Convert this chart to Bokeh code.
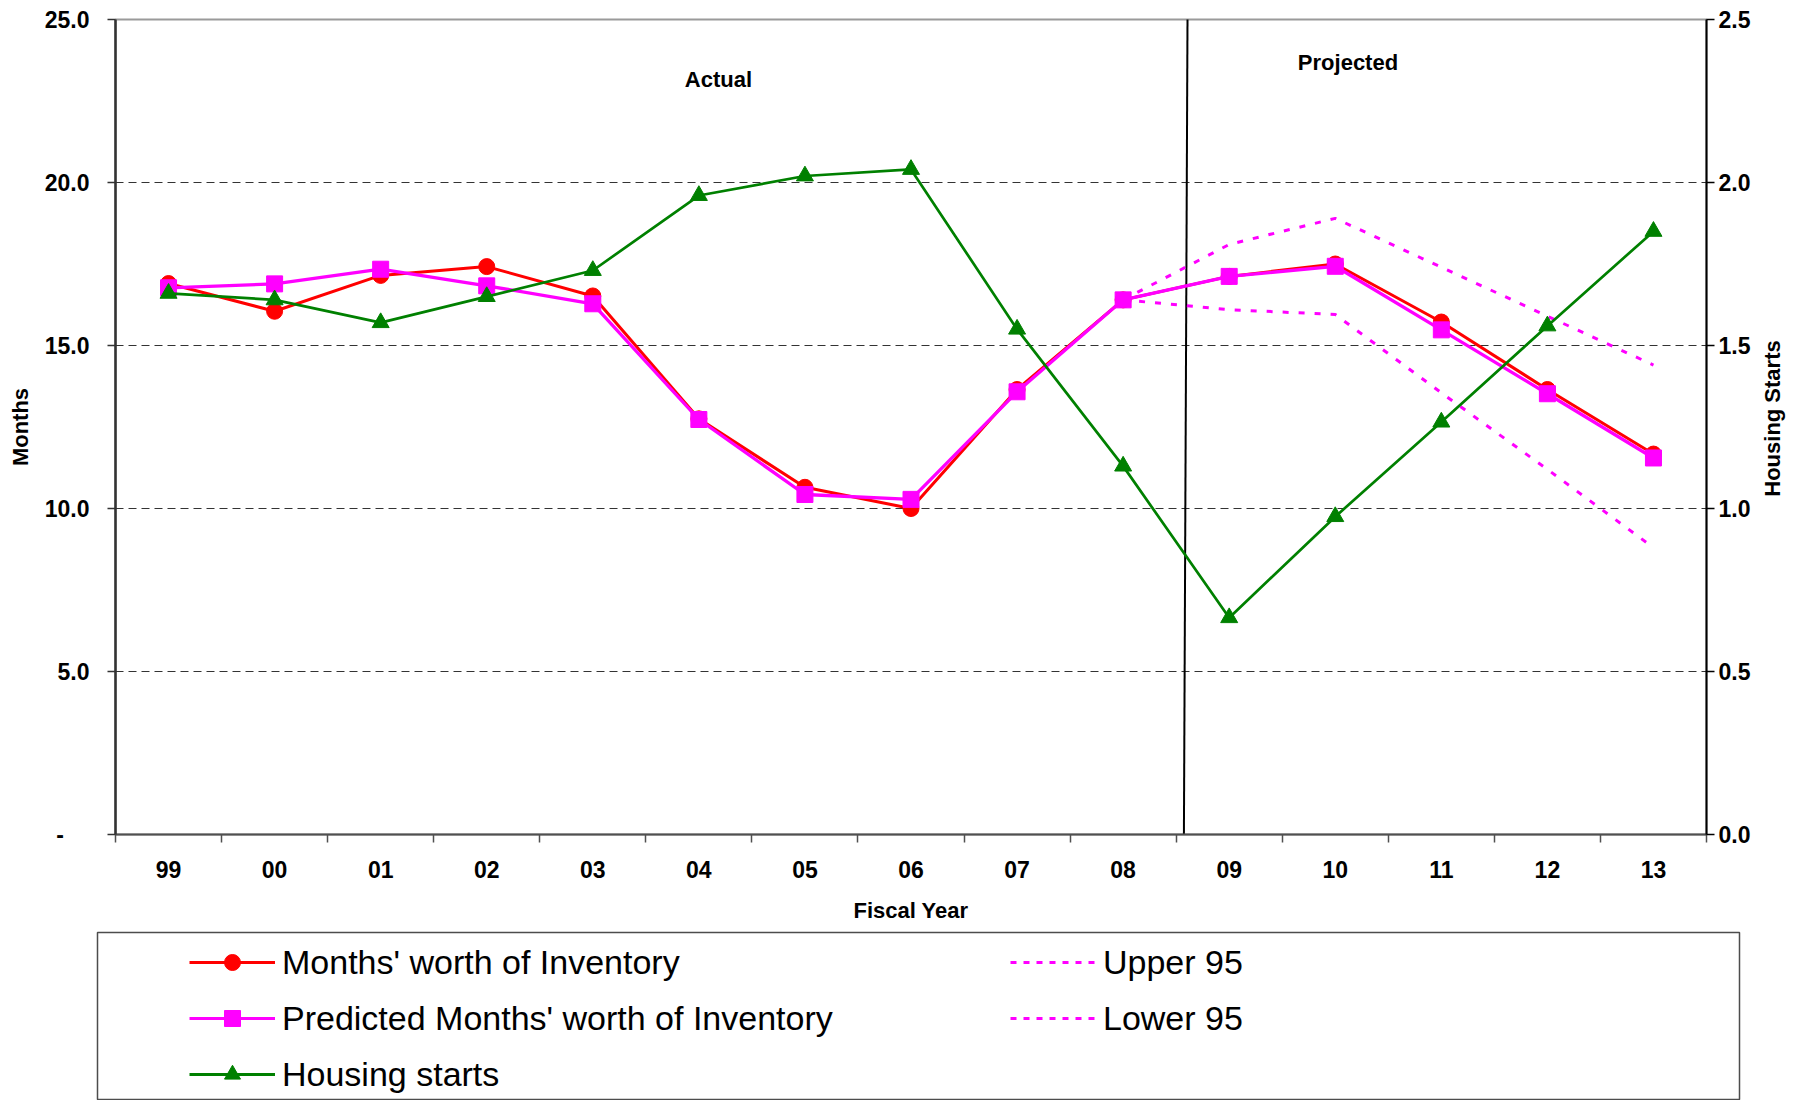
import math

from bokeh.plotting import figure
from bokeh.models import (Range1d, LinearAxis, FixedTicker, PrintfTickFormatter,
                          Legend, LegendItem, Label)
from bokeh.layouts import column, row
from bokeh.embed import file_html
from bokeh.resources import INLINE

# Fiscal years (two-digit) and series
years = ["99", "00", "01", "02", "03", "04", "05", "06", "07",
         "08", "09", "10", "11", "12", "13"]
months_inventory = [16.9, 16.05, 17.15, 17.42, 16.52, 12.75, 10.65, 10.0, 13.65,
                    16.4, 17.12, 17.5, 15.72, 13.65, 11.67]
predicted_inventory = [16.77, 16.89, 17.34, 16.83, 16.28, 12.73, 10.43, 10.28, 13.58,
                       16.4, 17.12, 17.43, 15.48, 13.52, 11.55]
housing_starts = [1.66, 1.64, 1.57, 1.65, 1.73, 1.96, 2.02, 2.04, 1.55,
                  1.13, 0.665, 0.975, 1.265, 1.56, 1.85]
band_years = ["08", "09", "10", "11", "12", "13"]
upper_95 = [16.4, 18.1, 18.9, 17.4, 15.9, 14.4]
lower_95 = [16.4, 16.1, 15.95, 13.55, 11.2, 8.8]

months_ticks = [0, 5, 10, 15, 20, 25]
starts_ticks = [0.0, 0.5, 1.0, 1.5, 2.0, 2.5]

FONT = "Liberation Sans"
RED, MAGENTA, GREEN = "#ff0000", "#ff00ff", "#008000"

xi = list(range(len(years)))
band_xi = [years.index(y) for y in band_years]

p = figure(width=1756, height=930,
           x_range=Range1d(-0.5, len(years) - 0.5), y_range=Range1d(0, 25),
           output_backend="svg", toolbar_location=None,
           min_border_left=115, min_border_right=50,
           min_border_top=19, min_border_bottom=96)
p.frame_align = False
p.background_fill_color = "white"
p.border_fill_color = "white"
p.outline_line_color = "#9a9a9a"
p.outline_line_width = 2

# Secondary scale for housing starts
p.extra_y_ranges = {"starts": Range1d(0, 2.5)}

# Category axis: labels at the centres, tick marks between categories
xa = p.xaxis[0]
xa.ticker = FixedTicker(ticks=xi, minor_ticks=[i - 0.5 for i in range(len(years) + 1)])
xa.major_label_overrides = {i: y for i, y in enumerate(years)}
xa.major_tick_in = 0
xa.major_tick_out = 0
xa.minor_tick_in = 0
xa.minor_tick_out = 8
xa.minor_tick_line_color = "#505050"
xa.minor_tick_line_width = 1.5
xa.axis_line_color = "#505050"
xa.axis_line_width = 2
xa.major_label_standoff = 18
xa.axis_label = "Fiscal Year"
xa.axis_label_standoff = 17

ya = p.yaxis[0]
ya.ticker = FixedTicker(ticks=months_ticks, minor_ticks=[])
ya.formatter = PrintfTickFormatter(format="%.1f")
ya.major_label_overrides = {0: "-\u00a0\u00a0\u00a0\u00a0"}
ya.major_tick_in = 0
ya.major_tick_out = 8
ya.major_tick_line_color = "#333333"
ya.major_tick_line_width = 1.5
ya.axis_line_color = "#333333"
ya.axis_line_width = 2.5
ya.major_label_standoff = 18
ya.axis_label = "Months"
ya.axis_label_standoff = 9

ra = LinearAxis(y_range_name="starts",
                ticker=FixedTicker(ticks=starts_ticks, minor_ticks=[]),
                formatter=PrintfTickFormatter(format="%.1f"))
ra.major_tick_in = 0
ra.major_tick_out = 8
ra.major_tick_line_color = "black"
ra.major_tick_line_width = 1.5
ra.axis_line_color = "black"
ra.axis_line_width = 2
ra.major_label_standoff = 4
p.add_layout(ra, "right")

for ax in (xa, ya, ra):
    ax.major_label_text_font = FONT
    ax.major_label_text_font_style = "bold"
    ax.major_label_text_font_size = "23px"
    ax.major_label_text_color = "black"
    ax.axis_label_text_font = FONT
    ax.axis_label_text_font_style = "bold"
    ax.axis_label_text_font_size = "22px"
    ax.axis_label_text_color = "black"

p.xgrid.visible = False
p.ygrid.ticker = FixedTicker(ticks=[5, 10, 15, 20], minor_ticks=[])
p.ygrid.grid_line_color = "#333333"
p.ygrid.grid_line_width = 1
p.ygrid.grid_line_dash = "8 5"

# Actual / projected divider
divider_x = [9.607, 9.573]
divider_y = [25.12, 0]
p.line(divider_x, divider_y, line_color="black", line_width=2)

# Series
p.line(xi, months_inventory, line_color=RED, line_width=3)
p.scatter(xi, months_inventory, marker="circle", size=16, fill_color=RED, line_color=RED)

p.line(xi, predicted_inventory, line_color=MAGENTA, line_width=3.3)
p.scatter(xi, predicted_inventory, marker="square", size=16, fill_color=MAGENTA, line_color=MAGENTA)

p.line(band_xi, upper_95, line_color=MAGENTA, line_width=3, line_dash="6 10")
p.line(band_xi, lower_95, line_color=MAGENTA, line_width=3, line_dash="6 10")

p.line(xi, housing_starts, line_color=GREEN, line_width=2.7, y_range_name="starts")
p.scatter(xi, housing_starts, marker="triangle", size=17, fill_color=GREEN,
          line_color=GREEN, y_range_name="starts")

for txt, x, y in (("Actual", 5.185, 23.16), ("Projected", 11.12, 23.68)):
    p.add_layout(Label(x=x, y=y, text=txt, text_align="center", text_baseline="middle",
                       text_font=FONT, text_font_style="bold", text_font_size="22px",
                       text_color="black"))

# Narrow strip holding the secondary axis title, reading bottom to top
r = figure(width=43, height=930, x_range=Range1d(0, 43), y_range=Range1d(0, 930),
           output_backend="svg", toolbar_location=None,
           x_axis_location=None, y_axis_location=None,
           min_border_left=0, min_border_right=0, min_border_top=0, min_border_bottom=0)
r.frame_align = False
r.grid.visible = False
r.outline_line_color = None
r.background_fill_color = "white"
r.border_fill_color = "white"
r.add_layout(Label(x=15.5, y=512, text="Housing Starts", angle=math.pi / 2,
                   text_align="center", text_baseline="middle",
                   text_font=FONT, text_font_style="bold", text_font_size="22px",
                   text_color="black"))

# Legend panel below the chart
q = figure(width=1799, height=170, x_range=Range1d(0, 1), y_range=Range1d(0, 1),
           output_backend="svg", toolbar_location=None,
           x_axis_location=None, y_axis_location=None,
           min_border_left=97, min_border_right=60, min_border_top=2, min_border_bottom=0)
q.frame_align = False
q.grid.visible = False
q.background_fill_color = "white"
q.border_fill_color = "white"
q.outline_line_color = "#4d4d4d"
q.outline_line_width = 1.5

NAN = float("nan")


def key(color, marker=None, dash="solid"):
    rs = [q.line(x=[NAN], y=[NAN], line_color=color, line_width=3, line_dash=dash)]
    if marker:
        rs.append(q.scatter(x=[NAN], y=[NAN], marker=marker, size=15,
                            fill_color=color, line_color=color))
    return rs


left_items = [
    LegendItem(label="Months' worth of Inventory", renderers=key(RED, "circle")),
    LegendItem(label="Predicted Months' worth of Inventory", renderers=key(MAGENTA, "square")),
    LegendItem(label="Housing starts", renderers=key(GREEN, "triangle")),
]
right_items = [
    LegendItem(label="Upper 95", renderers=key(MAGENTA, dash="6 7")),
    LegendItem(label="Lower 95", renderers=key(MAGENTA, dash="6 7")),
]

for items, loc in ((left_items, (92, 6)), (right_items, (913, 62))):
    lg = Legend(items=items, location=loc, orientation="vertical",
                glyph_width=86, glyph_height=40, label_height=40, label_standoff=7,
                spacing=16, padding=0, margin=0,
                border_line_color=None, background_fill_alpha=0,
                label_text_font=FONT, label_text_font_size="34px",
                label_text_color="black")
    q.add_layout(lg)

layout = column(row(p, r, spacing=0), q, spacing=0)
open("out.html", "w").write(file_html(layout, INLINE))
